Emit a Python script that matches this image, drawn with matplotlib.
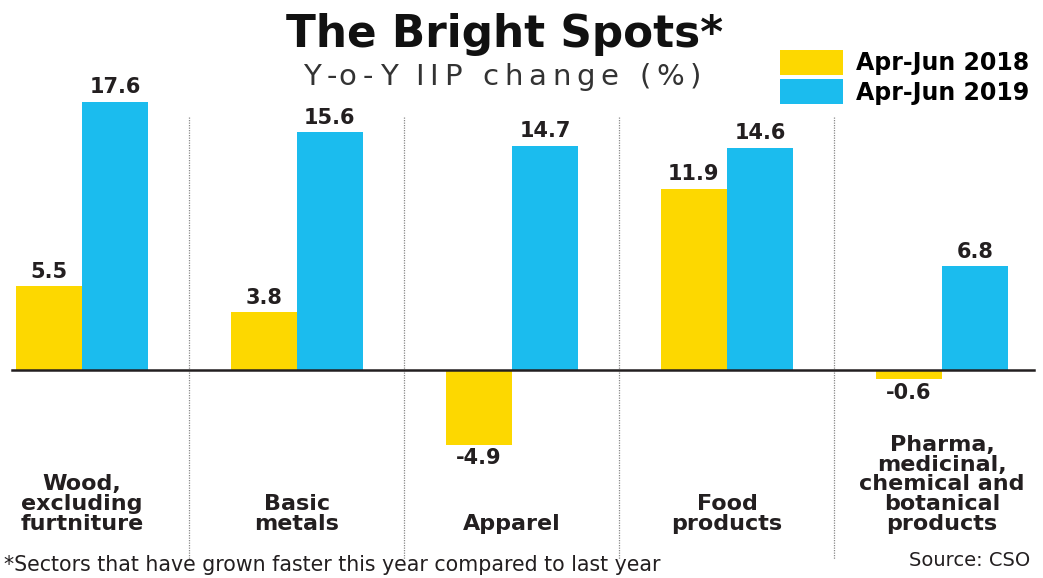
import matplotlib
matplotlib.use("Agg")
import matplotlib.pyplot as plt
import numpy as np

# sectors and their year-on-year IIP change (%)
categories = ["Wood,\nexcluding\nfurtniture", "Basic\nmetals", "Apparel",
              "Food\nproducts", "Pharma,\nmedicinal,\nchemical and\nbotanical\nproducts"]
apr_jun_2018 = [5.5, 3.8, -4.9, 11.9, -0.6]
apr_jun_2019 = [17.6, 15.6, 14.7, 14.6, 6.8]
series_labels = ["Apr-Jun 2018", "Apr-Jun 2019"]

YELLOW = "#FDD800"
BLUE = "#1BBCEE"
INK = "#231F20"
W, H = 1043, 578


def tracked_text(fig, cx_px, base_px, s, track, **kw):
    # draw a string letter by letter with extra spacing, centred at cx_px
    r = fig.canvas.get_renderer()

    def width(txt):
        t = fig.text(0, 0, txt + "|", **kw)
        w = t.get_window_extent(r).width
        t.remove()
        return w

    bar_w = width("")
    pref = [width(s[:i]) - bar_w for i in range(len(s) + 1)]
    total = pref[-1] + track * (len(s) - 1)
    x0 = cx_px - total / 2
    for i, ch in enumerate(s):
        fig.text((x0 + pref[i] + i * track) / W, 1 - base_px / H, ch,
                 ha="left", va="baseline", **kw)


fig = plt.figure(figsize=(W / 100, H / 100), dpi=100)
ax = fig.add_axes([0, 0, 1, 1])
ax.set_xlim(-0.381, 4.47)
ax.set_ylim(-13.66, 24.29)
ax.axis("off")

x = np.arange(len(categories))
w = 0.307
b1 = ax.bar(x - w / 2, apr_jun_2018, w, color=YELLOW, label=series_labels[0], zorder=2)
b2 = ax.bar(x + w / 2, apr_jun_2019, w, color=BLUE, label=series_labels[1], zorder=2)

# zero line
ax.plot([-0.326, 4.43], [0, 0], color=INK, lw=1.8, zorder=3)

# dotted separators between sectors
for sx in x[:-1] + 0.5:
    ax.plot([sx, sx], [16.6, -12.4], color="#888888", lw=0.9, ls=(0, (1, 1)), zorder=1)

# value labels
for bars, vals in ((b1, apr_jun_2018), (b2, apr_jun_2019)):
    for rect, v in zip(bars, vals):
        cx = rect.get_x() + rect.get_width() / 2
        if v >= 0:
            ax.text(cx, v + 0.3, f"{v:.1f}", ha="center", va="bottom",
                    fontsize=15, fontweight="bold", color=INK)
        else:
            ax.text(cx, v - 0.25, f"{v:.1f}", ha="center", va="top",
                    fontsize=15, fontweight="bold", color=INK)

# sector names
for xi, name in zip(x, categories):
    ax.text(xi, -10.75, name, ha="center", va="bottom", fontsize=16,
            fontweight="bold", color=INK, linespacing=0.98)

fig.text(0.4835, 1 - 47 / H, "The Bright Spots*", ha="center", va="baseline",
         fontsize=31.5, fontweight="black", color="#111111")
tracked_text(fig, 502, 85, "Y-o-Y IIP change (%)", 5.8,
             fontsize=21, color="#333333")

ax.legend(handles=[b1, b2], loc="upper left", bbox_to_anchor=(780 / W, 1 - 50 / H),
          frameon=False, prop={"size": 17, "weight": "bold"},
          handlelength=2.65, handleheight=1.25, labelspacing=0.17,
          handletextpad=0.55, borderpad=0, borderaxespad=0)

fig.text(0.004, 0.022, "*Sectors that have grown faster this year compared to last year",
         ha="left", va="center", fontsize=14.8, color=INK)
fig.text(0.988, 0.03, "Source: CSO", ha="right", va="center", fontsize=14,
         color=INK)

fig.savefig("out.png", dpi=100)
